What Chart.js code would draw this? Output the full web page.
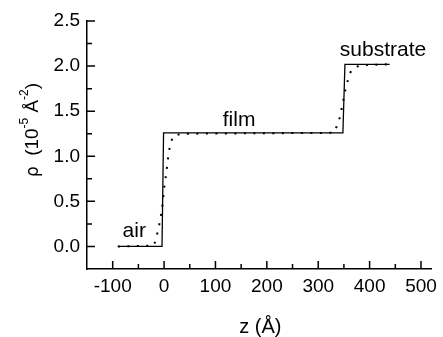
<!DOCTYPE html>
<html lang="en">
<head>
    <meta charset="UTF-8">
    <title>Density profile</title>
    <script src="https://cdn.jsdelivr.net/npm/chart.js"></script>
    <style>
        html, body { margin: 0; padding: 0; background: #fff; }
        #wrap { width: 443px; height: 337px; }
    </style>
</head>
<body>
    <div id="wrap"><canvas id="profileChart"></canvas></div>

    <script>
        // step model (solid) and smoothed fit (dotted), z in Angstrom, rho in 1e-5 A^-2
        const stepZ = [-90, -4, -1, 348, 352, 439];
        const stepRho = [0, 0, 1.26, 1.26, 2.02, 2.02];

        const fitZ = [-90, -20, -17, -12, -8, -5, -3, 1, 4, 6, 8, 11, 17, 33,
                      330, 336, 342, 346, 353, 358, 364, 380, 439];
        const fitRho = [0, 0.01, 0.06, 0.17, 0.28, 0.38, 0.47, 0.69, 0.80, 0.90, 0.99, 1.10, 1.22, 1.25,
                        1.26, 1.33, 1.43, 1.54, 1.74, 1.85, 1.95, 2.01, 2.02];

        const xTicks = [-100, 0, 100, 200, 300, 400, 500];
        const yTicks = [0.0, 0.5, 1.0, 1.5, 2.0, 2.5];

        const regionLabels = [
            { text: "air", z: -58, rho: 0.11 },
            { text: "film", z: 146, rho: 1.34 },
            { text: "substrate", z: 426, rho: 2.11 }
        ];

        const FONT = "Liberation Sans, Arial, sans-serif";

        const toPoints = (xs, ys) => xs.map((x, i) => ({ x: x, y: ys[i] }));

        // inward major/minor ticks, region labels and axis titles
        const decorations = {
            id: "decorations",
            afterDraw(chart) {
                const ctx = chart.ctx;
                const xs = chart.scales.x;
                const ys = chart.scales.y;
                const area = chart.chartArea;
                ctx.save();
                ctx.strokeStyle = "#000";
                ctx.lineWidth = 1.5;

                ctx.beginPath();
                for (let v = -100; v <= 500; v += 50) {
                    const px = xs.getPixelForValue(v);
                    const len = v % 100 === 0 ? 8 : 5;
                    ctx.moveTo(px, area.bottom);
                    ctx.lineTo(px, area.bottom - len);
                }
                for (let i = 0; i <= 10; i++) {
                    const v = i * 0.25;
                    const py = ys.getPixelForValue(v);
                    ctx.moveTo(area.left, py);
                    ctx.lineTo(area.left + (i % 2 === 0 ? 8 : 5), py);
                }
                ctx.stroke();

                ctx.fillStyle = "#000";
                ctx.font = "21px " + FONT;
                ctx.textAlign = "center";
                ctx.textBaseline = "alphabetic";
                regionLabels.forEach(l => {
                    ctx.fillText(l.text, xs.getPixelForValue(l.z), ys.getPixelForValue(l.rho));
                });

                // x title
                ctx.font = "20px " + FONT;
                ctx.fillText("z (Å)", (area.left + area.right) / 2 + 1, 333);

                // y title with superscripts, rotated
                const parts = [
                    { t: "ρ", f: "17px DejaVu Sans, sans-serif", dy: 0 },
                    { t: "  (10", f: "19px " + FONT, dy: 0 },
                    { t: "-5", f: "12px " + FONT, dy: -10 },
                    { t: " Å", f: "19px " + FONT, dy: 0 },
                    { t: "-2", f: "12px " + FONT, dy: -10 },
                    { t: ")", f: "19px " + FONT, dy: 0 }
                ];
                let total = 0;
                parts.forEach(p => { ctx.font = p.f; p.w = ctx.measureText(p.t).width; total += p.w; });
                ctx.translate(38, 130);
                ctx.rotate(-Math.PI / 2);
                ctx.scale(94 / total, 1);
                ctx.textAlign = "left";
                let cx = -total / 2;
                parts.forEach(p => {
                    ctx.font = p.f;
                    ctx.fillText(p.t, cx, p.dy);
                    cx += p.w;
                });
                ctx.restore();
            }
        };

        new Chart(document.getElementById("profileChart"), {
            type: "line",
            data: {
                datasets: [
                    {
                        label: "step",
                        data: toPoints(stepZ, stepRho),
                        borderColor: "#000",
                        borderWidth: 1.3,
                        pointRadius: 0,
                        tension: 0,
                        fill: false
                    },
                    {
                        label: "fit",
                        data: toPoints(fitZ, fitRho),
                        borderColor: "#000",
                        borderWidth: 2,
                        borderDash: [2, 7.5],
                        pointRadius: 0,
                        tension: 0,
                        fill: false
                    }
                ]
            },
            options: {
                responsive: true,
                maintainAspectRatio: false,
                animation: false,
                events: [],
                layout: { padding: { top: 21, right: 5, left: 0, bottom: 0 } },
                plugins: { legend: { display: false }, tooltip: { enabled: false } },
                scales: {
                    x: {
                        type: "linear",
                        min: -150,
                        max: 521,
                        afterBuildTicks: s => { s.ticks = xTicks.map(v => ({ value: v })); },
                        afterFit: s => { s.height = 68; },
                        grid: { display: false, drawTicks: false, tickLength: 0 },
                        border: { display: true, color: "#000", width: 1.5 },
                        ticks: {
                            color: "#000",
                            font: { family: FONT, size: 19 },
                            padding: 6,
                            maxRotation: 0,
                            callback: v => String(v)
                        }
                    },
                    y: {
                        type: "linear",
                        min: -0.25,
                        max: 2.5,
                        afterBuildTicks: s => { s.ticks = yTicks.map(v => ({ value: v })); },
                        afterFit: s => { s.width = 87; },
                        grid: { display: false, drawTicks: false, tickLength: 0 },
                        border: { display: true, color: "#000", width: 1.5 },
                        ticks: {
                            color: "#000",
                            font: { family: FONT, size: 19 },
                            padding: 7,
                            callback: v => v.toFixed(1)
                        }
                    }
                }
            },
            plugins: [decorations]
        });
    </script>
</body>
</html>
